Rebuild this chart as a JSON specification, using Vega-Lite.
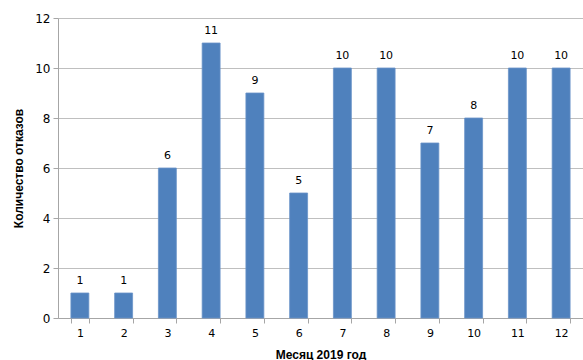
{
  "$schema": "https://vega.github.io/schema/vega-lite/v6.json",
  "width": 525,
  "height": 300,
  "autosize": {"type": "none"},
  "padding": {"left": 58, "top": 18, "right": 0, "bottom": 42},
  "background": "white",
  "config": {
    "view": {"stroke": null},
    "font": "DejaVu Sans"
  },
  "data": {
    "values": [
      {"month": "1", "count": 1},
      {"month": "2", "count": 1},
      {"month": "3", "count": 6},
      {"month": "4", "count": 11},
      {"month": "5", "count": 9},
      {"month": "6", "count": 5},
      {"month": "7", "count": 10},
      {"month": "8", "count": 10},
      {"month": "9", "count": 7},
      {"month": "10", "count": 8},
      {"month": "11", "count": 10},
      {"month": "12", "count": 10}
    ]
  },
  "encoding": {
    "x": {
      "field": "month",
      "type": "ordinal",
      "sort": null,
      "scale": {"paddingInner": 0.59, "paddingOuter": 0.295},
      "axis": {
        "title": "Месяц 2019 год",
        "titleFont": "Liberation Sans",
        "titleFontWeight": "bold",
        "titleFontSize": 12,
        "titleColor": "#000000",
        "titleY": 36,
        "titleBaseline": "middle",
        "labelAngle": 0,
        "labelFontSize": 11,
        "labelColor": "#000000",
        "labelPadding": 4,
        "tickBand": "extent",
        "tickSize": 5,
        "tickColor": "#a6a6a6",
        "domainColor": "#a6a6a6",
        "grid": false
      }
    },
    "y": {
      "field": "count",
      "type": "quantitative",
      "scale": {"domain": [0, 12], "nice": false},
      "axis": {
        "title": "Количество отказов",
        "titleFont": "Liberation Sans",
        "titleFontWeight": "bold",
        "titleFontSize": 12,
        "titleColor": "#000000",
        "titleX": -40,
        "titleY": 150,
        "titleBaseline": "middle",
        "titleAlign": "center",
        "values": [0, 2, 4, 6, 8, 10, 12],
        "labelFontSize": 12,
        "labelColor": "#000000",
        "labelPadding": 3,
        "tickSize": 5,
        "tickColor": "#a6a6a6",
        "domainColor": "#a6a6a6",
        "gridColor": "#bfbfbf",
        "grid": true
      }
    }
  },
  "layer": [
    {
      "mark": {"type": "bar", "color": "#4F81BD", "stroke": "#6a93c8", "strokeWidth": 0.8}
    },
    {
      "mark": {"type": "text", "baseline": "bottom", "dy": -7, "fontSize": 11, "color": "#000000", "font": "DejaVu Sans"},
      "encoding": {"text": {"field": "count", "type": "quantitative"}}
    }
  ]
}
